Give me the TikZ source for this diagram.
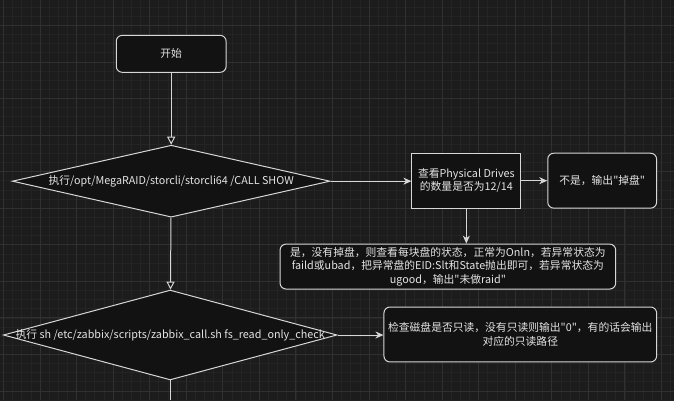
\documentclass[tikz,border=0pt]{standalone}
\usepackage{fontspec}
\setmainfont[Ligatures=TeXOff]{Noto Sans CJK SC}
\usetikzlibrary{arrows.meta,shapes.geometric}

\definecolor{bgcol}{RGB}{28,28,28}
\definecolor{boxcol}{RGB}{18,18,18}
\definecolor{majorcol}{RGB}{48,48,48}
\definecolor{minorcol}{RGB}{36,36,36}
\definecolor{linecol}{RGB}{215,215,215}
\definecolor{txtcol}{RGB}{228,228,228}

\tikzset{
  every node/.style={font=\fontsize{10.8}{13.5}\selectfont, text=txtcol},
  box/.style={draw=linecol, fill=boxcol, line width=1pt, align=center, inner sep=0pt},
  roundbox/.style={box, rounded corners=6pt},
  decision/.style={box, diamond, aspect=4},
  flow/.style={draw=linecol, line width=1pt, -{Stealth[length=8pt, width=7pt, inset=2.5pt]}},
  mainflow/.style={draw=linecol, line width=1pt, -{Triangle[open, length=8pt, width=8pt, fill=boxcol]}},
}

\begin{document}
\begin{tikzpicture}[x=1pt, y=-1pt]
% fond et grille
\fill[bgcol] (0,0) rectangle (674,400);
\foreach \i in {0,...,73} {
  \draw[minorcol, line width=0.6pt] ({3+9.15*\i},0) -- ({3+9.15*\i},400);
}
\foreach \j in {-2,...,41} {
  \draw[minorcol, line width=0.6pt] (0,{25+9.15*\j}) -- (674,{25+9.15*\j});
}
\foreach \i in {0,...,18} {
  \draw[majorcol, line width=0.8pt] ({3+36.6*\i},0) -- ({3+36.6*\i},400);
}
\foreach \j in {0,...,10} {
  \draw[majorcol, line width=0.8pt] (0,{25+36.6*\j}) -- (674,{25+36.6*\j});
}
\useasboundingbox (0,0) rectangle (674,400);

% noeuds
\node[roundbox, minimum width=110pt, minimum height=37pt] (start) at (171,53.5) {开始};
\node[decision, minimum width=318pt, minimum height=72pt] (storcli) at (171,181)
  {\makebox[0pt]{执行/opt/MegaRAID/storcli/storcli64 /CALL SHOW}};
\node[box, minimum width=109pt, minimum height=55pt] (drives) at (466.5,180.5)
  {查看Physical Drives\\的数量是否为12/14};
\node[roundbox, minimum width=109pt, minimum height=55pt] (lost) at (602.5,180.5)
  {不是，输出"掉盘"};
\node[roundbox, minimum width=336pt, minimum height=45pt] (state) at (448,266.5)
  {是，没有掉盘，则查看每块盘的状态，正常为Onln，若异常状态为\\faild或ubad，把异常盘的EID:Slt和State抛出即可，若异常状态为\\ugood，输出"未做raid"};
\node[decision, minimum width=334pt, minimum height=90pt] (zabbix) at (170,335)
  {\makebox[0pt]{执行 sh /etc/zabbix/scripts/zabbix\_call.sh fs\_read\_only\_check}};
\node[roundbox, minimum width=273pt, minimum height=55pt] (readonly) at (520.5,334.5)
  {检查磁盘是否只读，没有只读则输出"0"，有的话会输出\\对应的只读路径};
\coordinate (bottom) at (170,400);

% fleches
\draw[mainflow] (start) -- (storcli);
\draw[flow] (storcli.east) -- (drives.west |- storcli.east);
\draw[flow] (drives) -- (lost);
\draw[flow] (drives.south) -- (drives.south |- state.north);
\draw[mainflow] (storcli) -- (zabbix);
\draw[flow] (zabbix.east) -- (readonly.west |- zabbix.east);
\draw[draw=linecol, line width=1pt] (zabbix.south) -- (bottom);
\end{tikzpicture}
\end{document}
